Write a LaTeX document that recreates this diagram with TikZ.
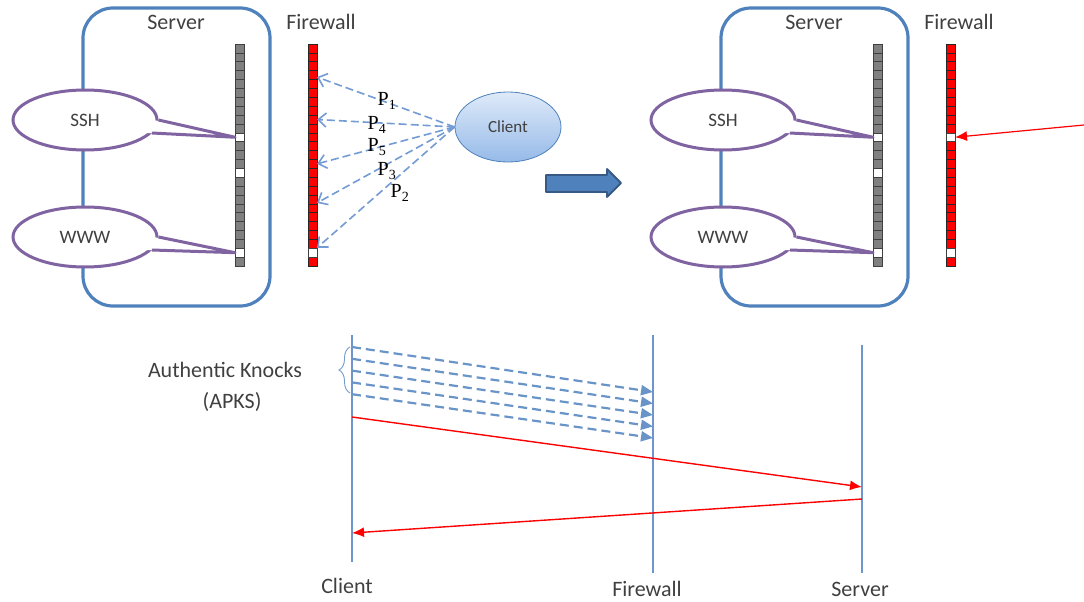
\documentclass[tikz,border=0pt]{standalone}
\usepackage{fontspec}
\setmainfont{Carlito}
\newfontfamily\pfont{Liberation Serif}
\usetikzlibrary{shapes.geometric,arrows.meta,decorations.pathreplacing}

\definecolor{boxblue}{RGB}{79,129,189}
\definecolor{knockblue}{RGB}{115,155,212}
\definecolor{lifeblue}{RGB}{110,150,205}
\definecolor{bubblepurple}{RGB}{128,100,162}
\definecolor{portgray}{RGB}{128,128,128}
\definecolor{txtgray}{RGB}{64,64,64}
\definecolor{clienttop}{RGB}{222,234,249}
\definecolor{clientbot}{RGB}{150,186,232}

\begin{document}
\begin{tikzpicture}[x=1pt,y=-1pt,
	port/.style={draw=black!75,line width=0.6pt,minimum width=9pt,minimum height=8.88pt,inner sep=0pt,outer sep=0pt},
	bubble/.style={ellipse,draw=bubblepurple,line width=3pt,fill=white,minimum width=144pt,minimum height=60pt,
		font=\fontsize{19}{21}\selectfont,text=txtgray},
	title/.style={font=\fontsize{22}{24}\selectfont,text=txtgray,inner sep=0pt},
	plab/.style={font=\pfont\fontsize{20}{22}\selectfont,inner sep=0pt},
	knock/.style={knockblue,line width=1.6pt,dash pattern=on 8pt off 4pt,-{Straight Barb[length=8pt,width=14pt]}},
	apk/.style={boxblue!85,line width=2.2pt,dash pattern=on 9pt off 5pt,-{Triangle[length=12pt,width=10pt]}},
	life/.style={lifeblue,line width=1.5pt},
	reply/.style={red,line width=1.4pt,-{Latex[length=12pt,width=10pt]}}
]
\useasboundingbox (0,0) rectangle (1084,602);

%% Server + firewall panels (before / after)
\foreach \side/\dx in {L/0,R/638}{
\begin{scope}[xshift=\dx]
	\draw[boxblue,line width=3.2pt,rounded corners=30pt] (83,8) rectangle (270,306);
	\node[title] (srv\side) at (176,22) {Server};
	\node[title] (fw\side) at (321,22) {Firewall};
	\foreach \i in {0,...,24}{
		\node[port,fill=portgray] (s\side-\i) at (239.5,{44+(\i+0.5)*8.88}) {};
		\node[port,fill=red,draw=black!85] (f\side-\i) at (312.5,{44+(\i+0.5)*8.88}) {};
	}
	\foreach \i in {10,14,23} \node[port,fill=white] at (s\side-\i) {};
	\node[port,fill=white] at (f\side-23) {};
	%% services with their callout tails
	\node[bubble] (ssh\side) at (85,120) {SSH};
	\node[bubble] (www\side) at (85,237) {WWW};
	\foreach \svc/\p in {ssh/10,www/23}{
		\fill[white] ([xshift=-5pt]\svc\side.east) -- (s\side-\p.west) -- ([xshift=-5pt]\svc\side.-11) -- cycle;
		\draw[bubblepurple,line width=3pt,line join=round] (\svc\side.east) -- (s\side-\p.west) -- (\svc\side.-11);
	}
\end{scope}
}
\node[port,fill=white] at (fR-10) {};

%% Client knocking on the closed firewall
\node[ellipse,draw=boxblue,line width=0.8pt,top color=clienttop,bottom color=clientbot,minimum width=106pt,minimum height=70pt,
	font=\fontsize{17}{19}\selectfont,text=txtgray] (client) at (508,127) {Client};
\foreach \c/\dy in {3/-2,8/0,13/0,17/-3.5,22/-4}
	\draw[knock] (client.west) -- ([yshift=\dy pt]fL-\c.east);
\node[plab] (p1) at (387,101) {P\textsubscript{1}};
\node[plab] (p4) at (377,125) {P\textsubscript{4}};
\node[plab] (p5) at (377,147) {P\textsubscript{5}};
\node[plab] (p3) at (387,171) {P\textsubscript{3}};
\node[plab] (p2) at (400,193) {P\textsubscript{2}};

%% transition arrow
\draw[fill=boxblue,draw=boxblue!70!black,line width=1.8pt,line join=round]
	(546,175) -- (607,175) -- (607,169) -- (621,183) -- (607,197) -- (607,192) -- (546,192) -- cycle;

%% connection through the opened port
\coordinate (probe) at (1084,125);
\draw[red,line width=1.2pt,-{Latex[length=12pt,width=10pt]}] (probe) -- (fR-10.east);

%% Sequence: lifelines
\coordinate (cTop) at (352,335);  \coordinate (cBot) at (352,562);
\coordinate (fwTop) at (653,335); \coordinate (fwBot) at (653,573);
\coordinate (svTop) at (862,345); \coordinate (svBot) at (862,573);
\draw[life] (cTop) -- (cBot);
\draw[life] (fwTop) -- (fwBot);
\draw[life] (svTop) -- (svBot);
\node[title] (cName) at (347,586) {Client};
\node[title] (fName) at (647,589) {Firewall};
\node[title] (sName) at (860,589) {Server};

%% knocks, then the session
\foreach \k in {0,...,4}
	\draw[apk] ([yshift={-12-11.8*\k}]cTop) -- ([yshift={-57-11.5*\k}]fwTop);
\draw[boxblue!80,line width=0.9pt,decorate,decoration={brace,amplitude=11pt}] (350,393) -- (350,347);
\node[title] (apks) at (225,370) {Authentic Knocks};
\node[title] (apksTag) at (232,402) {(APKS)};
\draw[reply] ([yshift=-82pt]cTop) -- ([yshift=-142pt]svTop);
\draw[reply] ([yshift=-154pt]svTop) -- ([yshift=-198pt]cTop);

\end{tikzpicture}
\end{document}
